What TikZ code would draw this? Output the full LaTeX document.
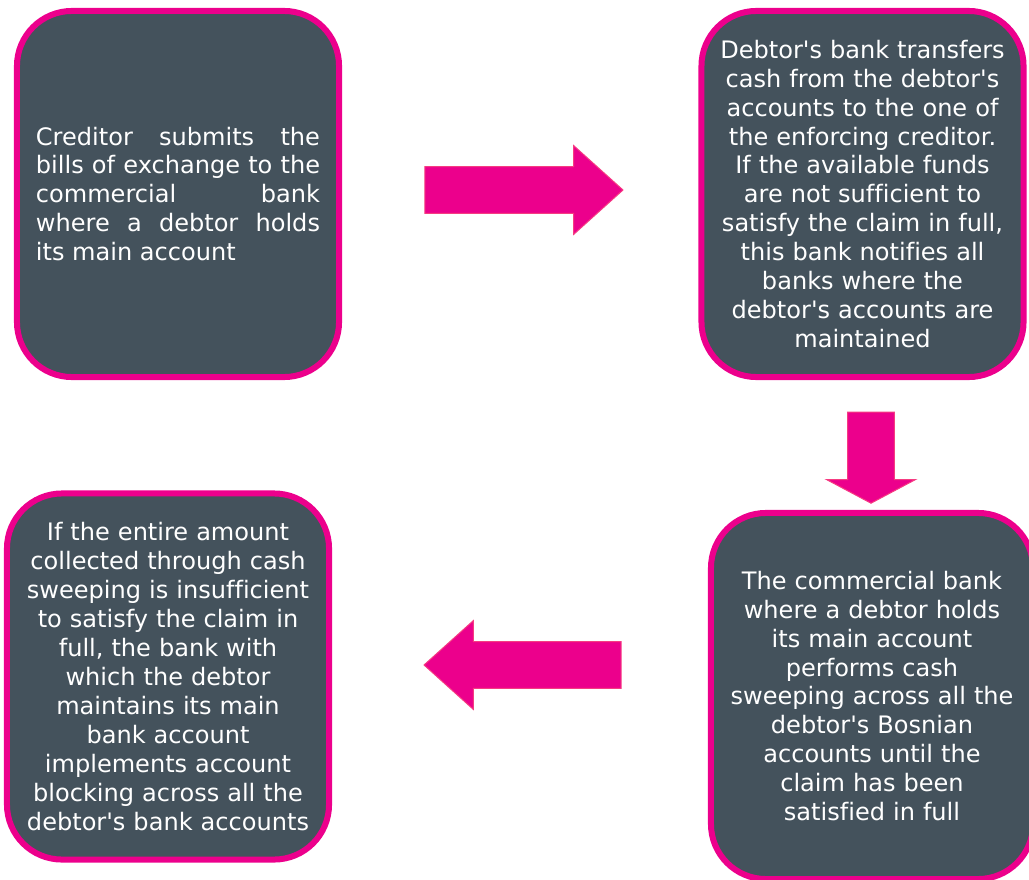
\documentclass[tikz,border=0pt]{standalone}
\usepackage{fontspec}
\setmainfont[Ligatures={TeXOff,NoCommon}]{DejaVu Sans}
\usetikzlibrary{shapes.arrows}
\definecolor{slate}{RGB}{68,82,92}
\definecolor{pinkline}{RGB}{236,0,140}
\definecolor{pinkedge}{RGB}{246,60,130}
\begin{document}
\begin{tikzpicture}[x=0.025cm,y=-0.025cm,
  stepbox/.style={draw=pinkline,line width=1.5mm,fill=slate,rounded corners=13.75mm,
    minimum width=80.5mm,minimum height=91.5mm,inner sep=0pt,text=white,
    font=\fontsize{17.1}{20.6}\selectfont,align=center,text width=73mm},
  blockarrow/.style={single arrow,fill=pinkline,draw=pinkedge,line width=0.25mm,inner sep=5.7mm,
    minimum width=22mm,single arrow head extend=5.3mm}]
  \useasboundingbox (0,0) rectangle (1029,879);
  % the four steps
  \node[stepbox,align=justify,text width=71mm] (submit) at (178,194)
    {Creditor submits the\linebreak bills of exchange to the\linebreak commercial bank\linebreak where a debtor holds\linebreak its main account};
  \node[stepbox] (transfer) at (862.5,194)
    {Debtor's bank transfers\\cash from the debtor's\\accounts to the one of\\the enforcing creditor.\\If the available funds\\are not sufficient to\\satisfy the claim in full,\\this bank notifies all\\banks where the\\debtor's accounts are\\maintained};
  \node[stepbox] (sweep) at (872,696)
    {The commercial bank\\where a debtor holds\\its main account\\performs cash\\sweeping across all the\\debtor's Bosnian\\accounts until the\\claim has been\\satisfied in full};
  \node[stepbox] (block) at (168,676.5)
    {If the entire amount\\collected through cash\\sweeping is insufficient\\to satisfy the claim in\\full, the bank with\\which the debtor\\maintains its main\\bank account\\implements account\\blocking across all the\\debtor's bank accounts};
  % block arrows between the steps
  \node[blockarrow,minimum height=49.5mm,single arrow tip angle=84] (toright) at (511,190) {};
  \node[blockarrow,minimum height=22.75mm,single arrow tip angle=124,shape border rotate=270] (todown) at (871,451.5) {};
  \node[blockarrow,minimum height=49.25mm,single arrow tip angle=84,shape border rotate=180] (toleft) at (535.5,665) {};
\end{tikzpicture}
\end{document}
